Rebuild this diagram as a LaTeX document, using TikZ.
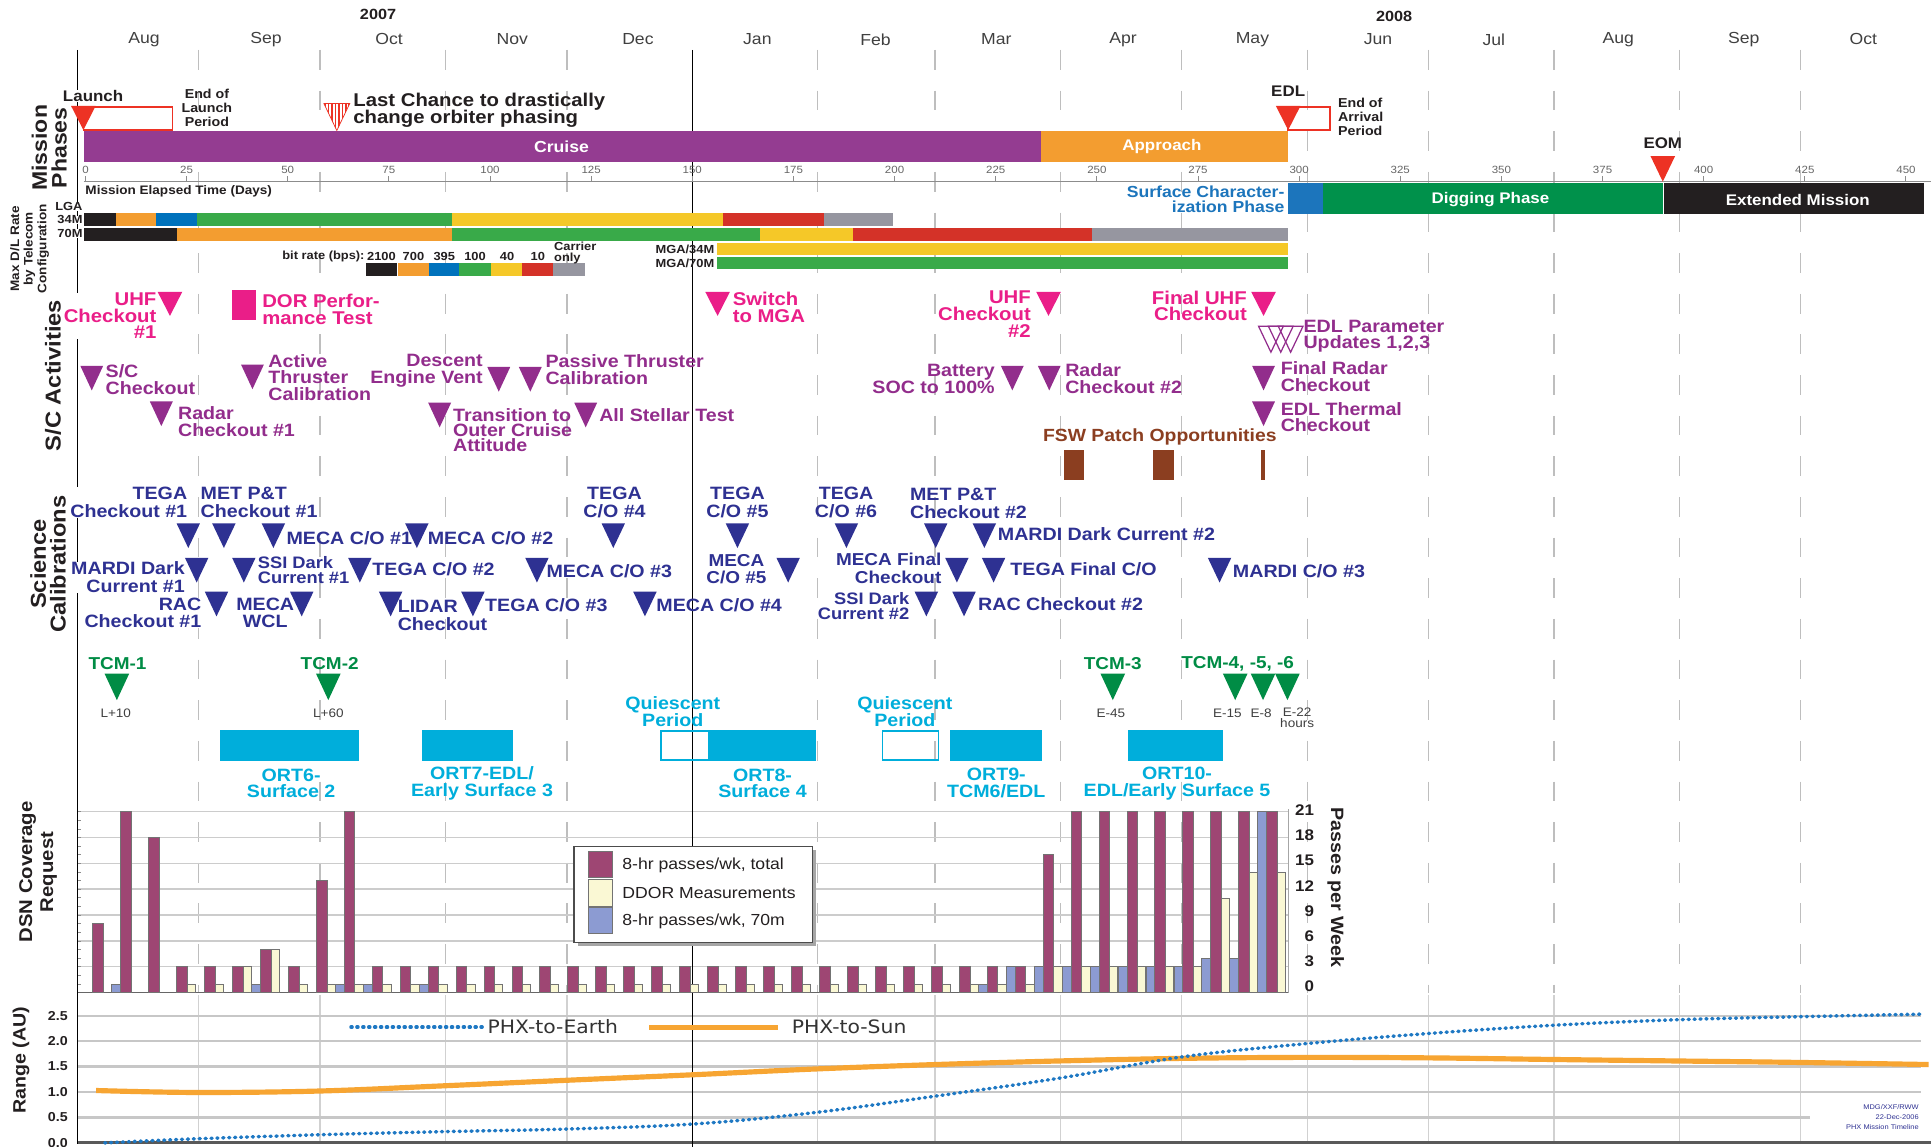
\documentclass[tikz,border=0pt]{standalone}
\usepackage{fontspec}
\setmainfont{Liberation Sans}
\newfontfamily\labf{Liberation Sans}[FakeStretch=1.1]
\newfontfamily\dvf{DejaVu Sans}[FakeStretch=1.1]
\definecolor{pk}{RGB}{234,30,136}
\definecolor{pu}{RGB}{146,45,140}
\definecolor{nv}{RGB}{46,49,146}
\definecolor{tg}{RGB}{0,140,69}
\definecolor{cy}{RGB}{0,174,219}
\definecolor{brn}{RGB}{139,62,32}
\definecolor{rd}{RGB}{237,50,36}
\definecolor{cru}{RGB}{148,60,145}
\definecolor{org}{RGB}{243,157,48}
\definecolor{sblue}{RGB}{28,117,188}
\definecolor{dig}{RGB}{0,145,75}
\definecolor{blk}{RGB}{35,31,32}
\definecolor{bblue}{RGB}{0,114,188}
\definecolor{bgreen}{RGB}{57,170,73}
\definecolor{byel}{RGB}{245,200,40}
\definecolor{bred}{RGB}{212,50,40}
\definecolor{bgrey}{RGB}{150,150,160}
\definecolor{dsnp}{RGB}{158,70,115}
\definecolor{dsny}{RGB}{250,248,212}
\definecolor{dsnb}{RGB}{140,155,210}
\definecolor{grd}{RGB}{190,190,190}
\definecolor{earth}{RGB}{30,120,195}
\definecolor{sun}{RGB}{247,165,50}
\newcommand\tri[5]{\fill[#1] ({#2-#4/2},#3) -- ({#2+#4/2},#3) -- (#2,{#3+#5}) -- cycle;}
\begin{document}
\begin{tikzpicture}[x=1pt,y=-1pt,
 base/.style={inner sep=0pt, outer sep=0pt},
 pkl/.style={base, text=pk, font=\labf\bfseries\fontsize{15}{13.5}\selectfont},
 pul/.style={base, text=pu, font=\labf\bfseries\fontsize{14.5}{13.5}\selectfont},
 nvl/.style={base, text=nv, font=\labf\bfseries\fontsize{14.5}{14.5}\selectfont},
 nvs/.style={base, text=nv, font=\labf\bfseries\fontsize{13.5}{12}\selectfont},
 tcml/.style={base, text=tg, font=\labf\bfseries\fontsize{14}{14}\selectfont},
 ortl/.style={base, text=cy, font=\labf\bfseries\fontsize{14.5}{13.5}\selectfont},
 sml/.style={base, text=black!75, font=\labf\fontsize{10}{8.7}\selectfont},
 sec/.style={base, rotate=90, align=center, text=blk, font=\labf\bfseries\fontsize{17.5}{16}\selectfont},
 mon/.style={base, text=black!75, font=\labf\fontsize{13}{13}\selectfont},
 yr/.style={base, text=blk, font=\labf\bfseries\fontsize{12}{12}\selectfont},
 wt/.style={base, text=white, font=\labf\bfseries\fontsize{12.5}{12.5}\selectfont},
 mk/.style={base, text=blk, font=\labf\bfseries\fontsize{12.5}{12.5}\selectfont},
 blkten/.style={base, text=blk, font=\labf\bfseries\fontsize{10.5}{11.3}\selectfont},
 tinyb/.style={base, text=blk, font=\labf\bfseries\fontsize{9.5}{9}\selectfont},
 tk/.style={base, text=black!60, font=\labf\fontsize{8.5}{8.5}\selectfont},
 wf/.style={fill=white},
 bar/.style={draw=black!55, line width=0.4},
 earthline/.style={earth, line width=2.8, line cap=round, dash pattern=on 0.9pt off 3.9pt}]
\useasboundingbox (0,0) rectangle (1568,931);
\fill[white] (0,0) rectangle (1568,931);

% ---------- grid ----------
\foreach \d in {28,58,89,119,181,210,241,271,302,332,363,394,424} {
  \draw[grd, line width=1.1, dash pattern=on 16pt off 17pt] ({69.4+3.285*\d},40.6) -- ({69.4+3.285*\d},806);
  \draw[black!18, line width=1] ({69.4+3.285*\d},808) -- ({69.4+3.285*\d},928);
}
% DSN grid
\foreach \v in {3,6,...,21} \draw[black!20, line width=1.2] (63,{806-7*\v}) -- (1046,{806-7*\v});
\foreach \v in {1,...,21} \draw[black!45, line width=0.5] (63,{806-7*\v}) -- (66,{806-7*\v});
\draw[black!35, line width=1] (1046,657) -- (1046,806);
\draw[black!60, line width=1] (63,806) -- (1046,806);
% range grid
\foreach \v/\e in {0.5/1470,1.0/1560,1.5/1560,2.0/1560,2.5/1560} \draw[black!22, line width=1.8] (63,{928-41.3*\v}) -- (\e,{928-41.3*\v});
\draw[black!65, line width=2.4] (63,928) -- (1568,928);

% axes
\draw[black, line width=1.2] (63,40.6) -- (63,929);
\draw[black, line width=1] (562.2,40.6) -- (562.2,931);

% ---------- header ----------
\node[yr] (y2007) at (307,12) {2007};
\node[yr] (y2008) at (1132,13) {2008};
\foreach \m/\x [count=\i] in {Aug/117,Sep/216,Oct/316,Nov/416,Dec/518,Jan/615,Feb/711,Mar/809,Apr/912,May/1017,Jun/1119,Jul/1213,Aug/1314,Sep/1416,Oct/1513}
  \node[mon] (mo\i) at (\x,32) {\m};

% ---------- mission phases ----------
\node[sec, font=\labf\bfseries\fontsize{17}{16}\selectfont] (lmp) at (40,120) {Mission\\Phases};
\fill[cru] (68,106.5) rectangle (845,131.5);
\fill[org] (845,106.5) rectangle (1046,131.5);
\node[wt, font=\labf\bfseries\fontsize{13}{13}\selectfont] (cruise) at (456,119) {Cruise};
\node[wt] (approach) at (943.5,119) {Approach};
\draw[rd, line width=1.2] (68,87) rectangle (140,105.5);
\tri{rd}{67.7}{86}{20}{19.6}
\node[mk, wf] (launch) at (75.6,78) {Launch};
\node[blkten, align=center] (eolp) at (168,87.8) {End of\\Launch\\Period};
\begin{scope}
\clip (263,84) -- (284,84) -- (273.5,106) -- cycle;
\foreach \i in {0,...,7} \draw[rd, line width=1.3] ({264+\i*2.8},83) -- ++(0,24);
\end{scope}
\draw[rd, line width=0.6] (263,84) -- (284,84) -- (273.5,106) -- cycle;
\node[base, anchor=west, align=left, text=blk, font=\labf\bfseries\fontsize{15}{14}\selectfont] (lastc) at (287,89.6) {Last Chance to drastically\\change orbiter phasing};
\draw[rd, line width=1.2] (1046,87) rectangle (1080,105.5);
\tri{rd}{1046}{86}{20}{19.6}
\node[mk] (edl) at (1046,74.4) {EDL};
\node[blkten, anchor=west, align=left] (eoap) at (1086.6,94.8) {End of\\Arrival\\Period};
% days axis
\draw[black!45, line width=1.2] (68,147.5) -- (1568,147.5);
\foreach \d in {0,25,...,450} {
  \draw[black!45, line width=0.8] ({69.4+3.285*\d},143) -- ({69.4+3.285*\d},147.5);
  \node[tk] (dd\d) at ({69.4+3.285*\d},138) {\d};
}
\node[base, anchor=west, text=blk, font=\labf\bfseries\fontsize{10}{10}\selectfont] (met) at (69.4,155) {Mission Elapsed Time (Days)};
\fill[sblue] (1046,148.3) rectangle (1074,174);
\fill[dig] (1074,148.3) rectangle (1350.2,174);
\fill[blk] (1351,148.3) rectangle (1562,174);
\node[wt] (digp) at (1210.3,162) {Digging Phase};
\node[wt] (extm) at (1459.8,162) {Extended Mission};
\tri{rd}{1350.2}{126.7}{20}{20.8}
\node[mk] (eom) at (1350.2,116.4) {EOM};
\node[base, anchor=east, align=right, text=sblue, font=\labf\bfseries\fontsize{13}{12.6}\selectfont] (surf) at (1043,162) {Surface Character-\\ization Phase};

% ---------- telecom ----------
\node[sec, font=\labf\bfseries\fontsize{10}{11}\selectfont] (lmax) at (24,202) {Max D/L Rate\\by Telecom\\Configuration};
\node[tinyb, anchor=east, wf] (lga) at (67,168) {LGA};
\node[tinyb, anchor=east, wf] (m34) at (67,178.6) {34M};
\node[tinyb, anchor=east, wf] (m70) at (67,189.5) {70M};
\fill[blk] (68,173.2) rectangle (94,183.5);
\fill[org] (94,173.2) rectangle (127,183.5);
\fill[bblue] (127,173.2) rectangle (160,183.5);
\fill[bgreen] (160,173.2) rectangle (367,183.5);
\fill[byel] (367,173.2) rectangle (587,183.5);
\fill[bred] (587,173.2) rectangle (669,183.5);
\fill[bgrey] (669,173.2) rectangle (725,183.5);
\fill[blk] (68,185.1) rectangle (143.5,195.4);
\fill[org] (143.5,185.1) rectangle (367,195.4);
\fill[bgreen] (367,185.1) rectangle (617,195.4);
\fill[byel] (617,185.1) rectangle (692.3,195.4);
\fill[bred] (692.3,185.1) rectangle (887,195.4);
\fill[bgrey] (887,185.1) rectangle (1046,195.4);
\fill[byel] (582.3,197.6) rectangle (1046,207);
\fill[bgreen] (582.3,209) rectangle (1046,218.7);
\node[tinyb, anchor=east] (mga34) at (580,202.3) {MGA/34M};
\node[tinyb, anchor=east] (mga70) at (580,213.8) {MGA/70M};
\node[tinyb, anchor=east] (brl) at (296,208.4) {bit rate (bps):};
\foreach \c/\a/\l [count=\i] in {blk/297/2100,org/323/700,bblue/348/395,bgreen/373/100,byel/399/40,bred/424/10} {
  \fill[\c] (\a,213.8) rectangle ({\a+25.5},224);
  \node[tinyb] (br\i) at ({\a+12.75},208.4) {\l};
}
\fill[bgrey] (449,213.8) rectangle (475,224);
\node[tinyb, anchor=west, align=left] (carr) at (450,205.5) {Carrier\\only};

% ---------- S/C activities ----------
\node[sec] (lsc) at (43,305) {S/C Activities};
\node[pkl, anchor=east, align=right, wf] (uhf1) at (127,256.5) {UHF\\Checkout\\\#1};
\tri{pk}{138}{237}{20}{19.5}
\fill[pk] (188,235.5) rectangle (208,260);
\node[pkl, anchor=west, align=left] (dor) at (213,251) {DOR Perfor-\\mance Test};
\tri{pk}{582.7}{237}{20}{19.5}
\node[pkl, anchor=west, align=left] (smga) at (595,249.5) {Switch\\to MGA};
\node[pkl, anchor=east, align=right] (uhf2) at (837,255) {UHF\\Checkout\\\#2};
\tri{pk}{851.4}{237}{20}{19.5}
\node[pkl, anchor=east, align=right] (fuhf) at (1012.4,248.5) {Final UHF\\Checkout};
\tri{pk}{1026}{237}{20}{19.5}
\foreach \c in {1032,1040,1048} \draw[pu, line width=1] ({\c-10},265) -- ({\c+10},265) -- (\c,286) -- cycle;
\node[pul, anchor=west, align=left] (edlp) at (1058.5,273) {EDL Parameter\\Updates 1,2,3};

\tri{pu}{74.5}{297}{18.6}{20}
\node[pul, anchor=west, align=left] (scco) at (85.8,308) {S/C\\Checkout};
\tri{pu}{131}{326}{18.6}{20}
\node[pul, anchor=west, align=left] (rad1) at (144.6,342.5) {Radar\\Checkout \#1};
\tri{pu}{205}{296}{18.6}{20}
\node[pul, anchor=west, align=left] (atc) at (218,306.5) {Active\\Thruster\\Calibration};
\node[pul, anchor=east, align=right] (dev) at (392,301) {Descent\\Engine Vent};
\tri{pu}{405}{298}{18.6}{20}
\tri{pu}{430.6}{298}{18.6}{20}
\node[pul, anchor=west, align=left] (ptc) at (443,300) {Passive Thruster\\Calibration};
\tri{pu}{357}{327}{18.6}{20}
\node[pul, anchor=west, align=left, font=\labf\bfseries\fontsize{14.5}{12.3}\selectfont] (toc) at (368,349) {Transition to\\Outer Cruise\\Attitude};
\tri{pu}{475.6}{327}{18.6}{20}
\node[pul, anchor=west] (ast) at (486.6,337) {All Stellar Test};
\node[pul, anchor=east, align=right] (bat) at (807.7,307.5) {Battery\\SOC to 100\%};
\tri{pu}{822}{297}{18.6}{20}
\tri{pu}{852}{297}{18.6}{20}
\node[pul, anchor=west, align=left] (rad2) at (865,307.5) {Radar\\Checkout \#2};
\tri{pu}{1026}{297}{18.6}{20}
\node[pul, anchor=west, align=left] (frc) at (1040,306) {Final Radar\\Checkout};
\tri{pu}{1026}{326}{18.6}{20}
\node[pul, anchor=west, align=left] (etc) at (1040,338.7) {EDL Thermal\\Checkout};
\node[base, text=brn, font=\labf\bfseries\fontsize{14.3}{14.3}\selectfont] (fsw) at (941.8,354.6) {FSW Patch Opportunities};
\fill[brn] (863.6,365.4) rectangle (880.6,390);
\fill[brn] (936.3,365.4) rectangle (953,390);
\fill[brn] (1024,365.4) rectangle (1027,390);

% ---------- science calibrations ----------
\node[sec] (lsci) at (39,458) {Science\\Calibrations};
\node[nvl, anchor=east, align=right, wf] (tega1) at (152,408.2) {TEGA\\Checkout \#1};
\node[nvl, anchor=west, align=left] (met1) at (163,408.2) {MET P\&T\\Checkout \#1};
\node[nvl, anchor=west] (meca1) at (232.7,437) {MECA C/O \#1};
\node[nvl, anchor=west] (meca2) at (347.4,437) {MECA C/O \#2};
\node[nvl, align=center] (tega4) at (499,408.2) {TEGA\\C/O \#4};
\node[nvl, align=center] (tega5) at (598.8,408.2) {TEGA\\C/O \#5};
\node[nvl, align=center] (tega6) at (687,408) {TEGA\\C/O \#6};
\node[nvl, anchor=west, align=left] (met2) at (739,408.5) {MET P\&T\\Checkout \#2};
\node[nvl, anchor=west] (mardi2) at (810.3,433.6) {MARDI Dark Current \#2};
\foreach \x in {152.9,181.8,222,338.5,498,598.8,687.3,759.8,799.3} {\tri{nv}{\x}{425}{19}{20}}
\node[nvl, anchor=east, align=right, wf] (mardi1) at (150,468.7) {MARDI Dark\\Current \#1};
\node[nvs, anchor=west, align=left] (ssi1) at (209.4,463) {SSI Dark\\Current \#1};
\node[nvl, anchor=west] (tega2) at (302.4,462.3) {TEGA C/O \#2};
\node[nvl, anchor=west] (meca3) at (443.8,464.2) {MECA C/O \#3};
\node[nvl, align=center, font=\labf\bfseries\fontsize{14}{13.5}\selectfont] (meca5) at (598,462) {MECA\\C/O \#5};
\node[nvl, anchor=east, align=right, font=\labf\bfseries\fontsize{14}{14.6}\selectfont] (mecaf) at (764.4,461.5) {MECA Final\\Checkout};
\node[nvl, anchor=west] (tegaf) at (820.5,462.3) {TEGA Final C/O};
\node[nvl, anchor=west] (mardi3) at (1001.2,464.2) {MARDI C/O \#3};
\foreach \x in {159.7,198,292.2,436,640,777,806.8,990.3} {\tri{nv}{\x}{453}{19}{20}}
\node[nvl, anchor=east, align=right, wf] (rac1) at (163.5,497.6) {RAC\\Checkout \#1};
\node[nvl, align=center] (wcl) at (215.4,497.6) {MECA\\WCL};
\node[nvl, anchor=west, align=left] (lidar) at (323,499.6) {LIDAR\\Checkout};
\node[nvl, anchor=west] (tega3) at (394,491.3) {TEGA C/O \#3};
\node[nvl, anchor=west] (meca4) at (533,491.3) {MECA C/O \#4};
\node[nvs, anchor=east, align=right] (ssi2) at (738.4,492) {SSI Dark\\Current \#2};
\node[nvl, anchor=west] (rac2) at (794.3,490.5) {RAC Checkout \#2};
\foreach \x in {175.8,245,317.2,384,523.7,752.2,782.8} {\tri{nv}{\x}{480.5}{19}{20}}

% ---------- TCM ----------
\node[tcml] (tcm1) at (95.4,539) {TCM-1};
\tri{tg}{94.9}{547}{20}{21.5}
\node[sml] (l10) at (94,579) {L+10};
\node[tcml] (tcm2) at (267.7,539) {TCM-2};
\tri{tg}{266.6}{547}{20}{21.5}
\node[sml] (l60) at (266.6,579) {L+60};
\node[tcml] (tcm3) at (903.6,539) {TCM-3};
\tri{tg}{903.6}{547}{20}{21.5}
\node[sml] (e45) at (902,579) {E-45};
\node[tcml] (tcm4) at (1005,539) {TCM-4, -5, -6};
\tri{tg}{1003}{547}{20}{21.5}
\tri{tg}{1025.6}{547}{20}{21.5}
\tri{tg}{1045.4}{547}{20}{21.5}
\node[sml] (e15) at (996.7,579) {E-15};
\node[sml] (e8) at (1024,579) {E-8};
\node[sml, align=center] (e22) at (1053.3,583) {E-22\\hours};

% ---------- ORT ----------
\fill[cy] (178.3,592.8) rectangle (291.7,617.7);
\fill[cy] (343,592.8) rectangle (416.4,617.7);
\draw[cy, line width=1.2] (536.6,593.4) rectangle (575.3,617.1);
\fill[cy] (575.3,592.8) rectangle (662.5,617.7);
\draw[cy, line width=1.2] (716.6,593.4) rectangle (762.2,617.1);
\fill[cy] (771.8,592.8) rectangle (846,617.7);
\fill[cy] (915.7,592.8) rectangle (992.9,617.7);
\node[ortl, align=center] (ort6) at (236.4,636) {ORT6-\\Surface 2};
\node[ortl, align=center] (ort7) at (391.4,636) {ORT7-EDL/\\Early Surface 3};
\node[ortl, align=center] (ort8) at (619.2,636) {ORT8-\\Surface 4};
\node[ortl, align=center] (ort9) at (809,636) {ORT9-\\TCM6/EDL};
\node[ortl, align=center] (ort10) at (955.8,636.5) {ORT10-\\EDL/Early Surface 5};
\node[ortl, align=center] (qp1) at (546.3,577.9) {Quiescent\\Period};
\node[ortl, align=center] (qp2) at (734.8,577.9) {Quiescent\\Period};

% ---------- DSN ----------
\node[sec, font=\labf\bfseries\fontsize{15}{17}\selectfont] (ldsn) at (31,708) {DSN Coverage\\Request};
\foreach \b/\p/\y [count=\g from 0] in {0/8/0,1/21/0,0/18/0,0/3/1,0/3/1,0/3/3,1/5/5,0/3/1,0/13/1,1/21/1,1/3/1,0/3/1,1/3/1,
  0/3/1,0/3/1,0/3/1,0/3/1,0/3/1,0/3/1,0/3/1,0/3/1,0/3/1,0/3/1,0/3/1,0/3/1,0/3/1,0/3/1,0/3/1,0/3/1,0/3/1,0/3/1,0/3/1,
  1/3/1,3/3/1,3/16/3,3/21/3,3/21/3,3/21/3,3/21/3,3/21/3,4/21/11,4/21/14,21/21/14} {
  \pgfmathsetmacro\xc{79.4+22.7*\g}
  \ifnum\b>0 \filldraw[bar, fill=dsnb] ({\xc-11.6},806) rectangle ({\xc-4.35},{806-7*\b}); \fi
  \ifnum\p>0 \filldraw[bar, fill=dsnp] ({\xc-4.35},806) rectangle ({\xc+4.35},{806-7*\p}); \fi
  \ifnum\y>0 \filldraw[bar, fill=dsny] ({\xc+4.35},806) rectangle ({\xc+11},{806-7*\y}); \fi
}
\foreach \v in {0,3,...,21} \node[base, anchor=east, text=blk, font=\labf\bfseries\fontsize{12.5}{12.5}\selectfont] (pv\v) at (1067,{801-6.82*\v}) {\v};
\node[base, rotate=-90, text=blk, font=\labf\bfseries\fontsize{14.5}{14.5}\selectfont] (ppw) at (1084.6,720.7) {Passes per Week};
\fill[black!35] (469,690.5) rectangle (663,768.5);
\draw[fill=white, draw=black!70, line width=1] (466,687.5) rectangle (660,765.5);
\filldraw[bar, fill=dsnp] (478,691) rectangle (497,712);
\filldraw[bar, fill=dsny] (478,714) rectangle (497,735.5);
\filldraw[bar, fill=dsnb] (478,737) rectangle (497,758);
\node[base, anchor=west, text=blk, font=\labf\fontsize{13}{13}\selectfont] (lg1) at (505.4,703) {8-hr passes/wk, total};
\node[base, anchor=west, text=blk, font=\labf\fontsize{13}{13}\selectfont] (lg2) at (505.4,725.4) {DDOR Measurements};
\node[base, anchor=west, text=blk, font=\labf\fontsize{13}{13}\selectfont] (lg3) at (505.4,748.4) {8-hr passes/wk, 70m};

% ---------- range ----------
\node[sec, font=\labf\bfseries\fontsize{14.5}{14.5}\selectfont] (lrng) at (17,861) {Range (AU)};
\foreach \v/\t in {0.0/0.0,0.5/0.5,1.0/1.0,1.5/1.5,2.0/2.0,2.5/2.5}
  \node[base, text=blk, font=\labf\bfseries\fontsize{10.5}{10.5}\selectfont] (rv\t) at (47,{928-41.3*\v}) {\t};
\draw[sun, line width=4.2] plot[smooth, tension=0.6] coordinates {(78,885.5) (160,887.1) (260,885.9) (360,881.7) (460,877.2) (563,872.7) (660,868.1) (760,864.4) (860,861.5) (960,859.4) (1060,858.6) (1160,859) (1260,860.3) (1360,861.5) (1460,862.7) (1566,864.4)};
\draw[earthline] plot[smooth, tension=0.6] coordinates {(85,928) (160,924.7) (260,921.4) (360,918.9) (460,916.8) (563,912.7) (660,903.6) (760,890) (860,875.5) (960,858.2) (1060,847.5) (1160,839.2) (1260,832.6) (1360,828.1) (1460,825.6) (1560,823.5)};
\draw[earthline] (285,834) -- (392,834);
\node[base, anchor=west, text=black!80, font=\dvf\fontsize{15}{15}\selectfont] (le) at (396,834) {PHX-to-Earth};
\draw[sun, line width=4.2] (527,834) -- (632,834);
\node[base, anchor=west, text=black!80, font=\dvf\fontsize{15}{15}\selectfont] (ls) at (643,834) {PHX-to-Sun};
\node[base, anchor=east, align=right, text=nv, font=\labf\fontsize{5.5}{7.8}\selectfont] (credit) at (1558,907) {MDG/XXF/RWW\\22-Dec-2006\\PHX Mission Timeline};
\end{tikzpicture}
\end{document}
